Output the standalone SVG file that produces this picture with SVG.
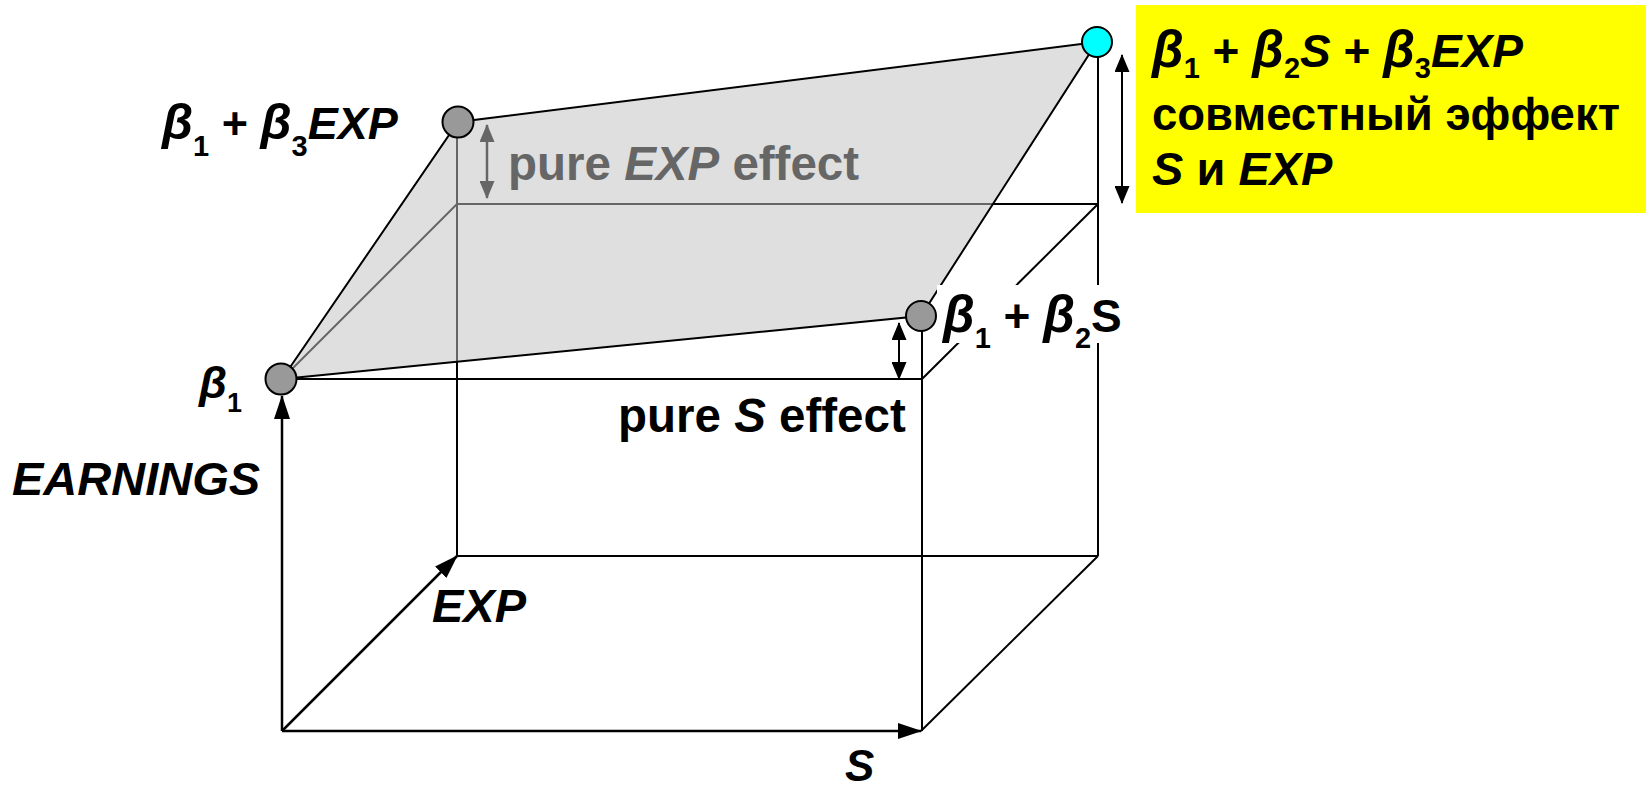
<svg xmlns="http://www.w3.org/2000/svg" width="1649" height="791" viewBox="0 0 1649 791">
<style>
.box{stroke:#000;stroke-width:2;fill:none}
.axis{stroke:#000;stroke-width:2.5;fill:none}
.edge{stroke:#000;stroke-width:2;fill:none}
.pt{fill:#999;stroke:#000;stroke-width:2}
.t{font-family:"Liberation Sans",Arial,sans-serif;font-weight:bold;fill:#000}
.i{font-style:italic}
.b{font-family:"Liberation Sans",Arial,sans-serif;font-style:italic;font-weight:bold}
.gray{fill:#666}
</style>
<defs>
<marker id="ax" markerUnits="userSpaceOnUse" markerWidth="24" markerHeight="16" refX="23" refY="8" orient="auto"><path d="M0,0 L24,8 L0,16 z" fill="#000"/></marker>
<marker id="dh" markerUnits="userSpaceOnUse" markerWidth="18" markerHeight="15" refX="17" refY="7.5" orient="auto-start-reverse"><path d="M0,0 L18,7.5 L0,15 z" fill="#000"/></marker>
<marker id="dhg" markerUnits="userSpaceOnUse" markerWidth="18" markerHeight="15" refX="17" refY="7.5" orient="auto-start-reverse"><path d="M0,0 L18,7.5 L0,15 z" fill="#666"/></marker>
</defs>

<g id="box">
<line class="box" x1="457" y1="556" x2="1098" y2="556"/>
<line class="box" x1="921" y1="731" x2="1098" y2="556"/>
<line class="box" x1="457" y1="556" x2="457" y2="122"/>
<line class="box" x1="922" y1="731" x2="922" y2="316"/>
<line class="box" x1="1098" y1="556" x2="1098" y2="42"/>
<line class="box" x1="282" y1="379" x2="922" y2="379"/>
<line class="box" x1="922" y1="379" x2="1098" y2="204"/>
<line class="box" x1="457" y1="204" x2="1098" y2="204"/>
<line class="box" x1="282" y1="379" x2="457" y2="204"/>
</g>

<g id="plane">
<polygon points="282,379 458,122 1097,42 921,316" fill="#c2c2c2" fill-opacity="0.525"/>
<polyline class="edge" points="282,379 458,122 1097,42 921,316 282,379"/>
</g>

<rect x="937" y="285" width="176" height="58" fill="#fff"/>

<g id="connectors">
<line class="axis" x1="282" y1="731" x2="282" y2="396" marker-end="url(#ax)"/>
<line class="axis" x1="282" y1="731" x2="921" y2="731" marker-end="url(#ax)"/>
<line class="axis" x1="282" y1="731" x2="457" y2="556" marker-end="url(#ax)"/>
<line stroke="#000" stroke-width="2" x1="899" y1="323" x2="899" y2="379" marker-start="url(#dh)" marker-end="url(#dh)"/>
<line stroke="#000" stroke-width="2" x1="1122" y1="55" x2="1122" y2="203" marker-start="url(#dh)" marker-end="url(#dh)"/>
<line stroke="#666" stroke-width="2.5" x1="487" y1="125" x2="487" y2="198" marker-start="url(#dhg)" marker-end="url(#dhg)"/>
</g>

<g id="node-b1">
<circle class="pt" cx="281" cy="379" r="15.5"/>
<text class="t" x="199" y="398" font-size="38"><tspan class="b" font-size="45">β</tspan><tspan font-size="27" dy="14">1</tspan></text>
</g>

<g id="node-b1b3">
<circle class="pt" cx="458" cy="122" r="15.5"/>
<text class="t" x="162" y="139" font-size="45"><tspan class="b" font-size="50">β</tspan><tspan font-size="29" dy="17">1</tspan><tspan dy="-17"> + </tspan><tspan class="b" font-size="50">β</tspan><tspan font-size="29" dy="17">3</tspan><tspan class="i" dy="-17">EXP</tspan></text>
</g>

<g id="node-b1b2">
<circle class="pt" cx="921" cy="316" r="15"/>
<text class="t" x="943" y="332" font-size="46"><tspan class="b" font-size="51">β</tspan><tspan font-size="29" dy="16">1</tspan><tspan dy="-16"> + </tspan><tspan class="b" font-size="51">β</tspan><tspan font-size="29" dy="16">2</tspan><tspan dy="-16">S</tspan></text>
</g>

<g id="node-joint">
<circle cx="1097" cy="42" r="15" fill="#00ffff" stroke="#000" stroke-width="2"/>
<rect x="1136" y="5" width="510" height="208" fill="#ffff00"/>
<text class="t" x="1152" y="67" font-size="46"><tspan class="b" font-size="51">β</tspan><tspan font-size="29" dy="11">1</tspan><tspan dy="-11"> + </tspan><tspan class="b" font-size="51">β</tspan><tspan font-size="29" dy="11">2</tspan><tspan class="i" dy="-11">S</tspan><tspan> + </tspan><tspan class="b" font-size="51">β</tspan><tspan font-size="29" dy="11">3</tspan><tspan class="i" dy="-11">EXP</tspan></text>
<text class="t" x="1152" y="130" font-size="47" textLength="468" lengthAdjust="spacingAndGlyphs">совместный эффект</text>
<text class="t" x="1152" y="185" font-size="47"><tspan class="i">S</tspan> и <tspan class="i">EXP</tspan></text>
</g>

<g id="labels">
<text class="t gray" x="508" y="180" font-size="47.5">pure <tspan class="i">EXP</tspan> effect</text>
<text class="t" x="618" y="432" font-size="47.5">pure <tspan class="i">S</tspan> effect</text>
<text class="t i" x="12" y="495" font-size="47">EARNINGS</text>
<text class="t i" x="432" y="622" font-size="47">EXP</text>
<text class="t i" x="845" y="781" font-size="44">S</text>
</g>
</svg>
